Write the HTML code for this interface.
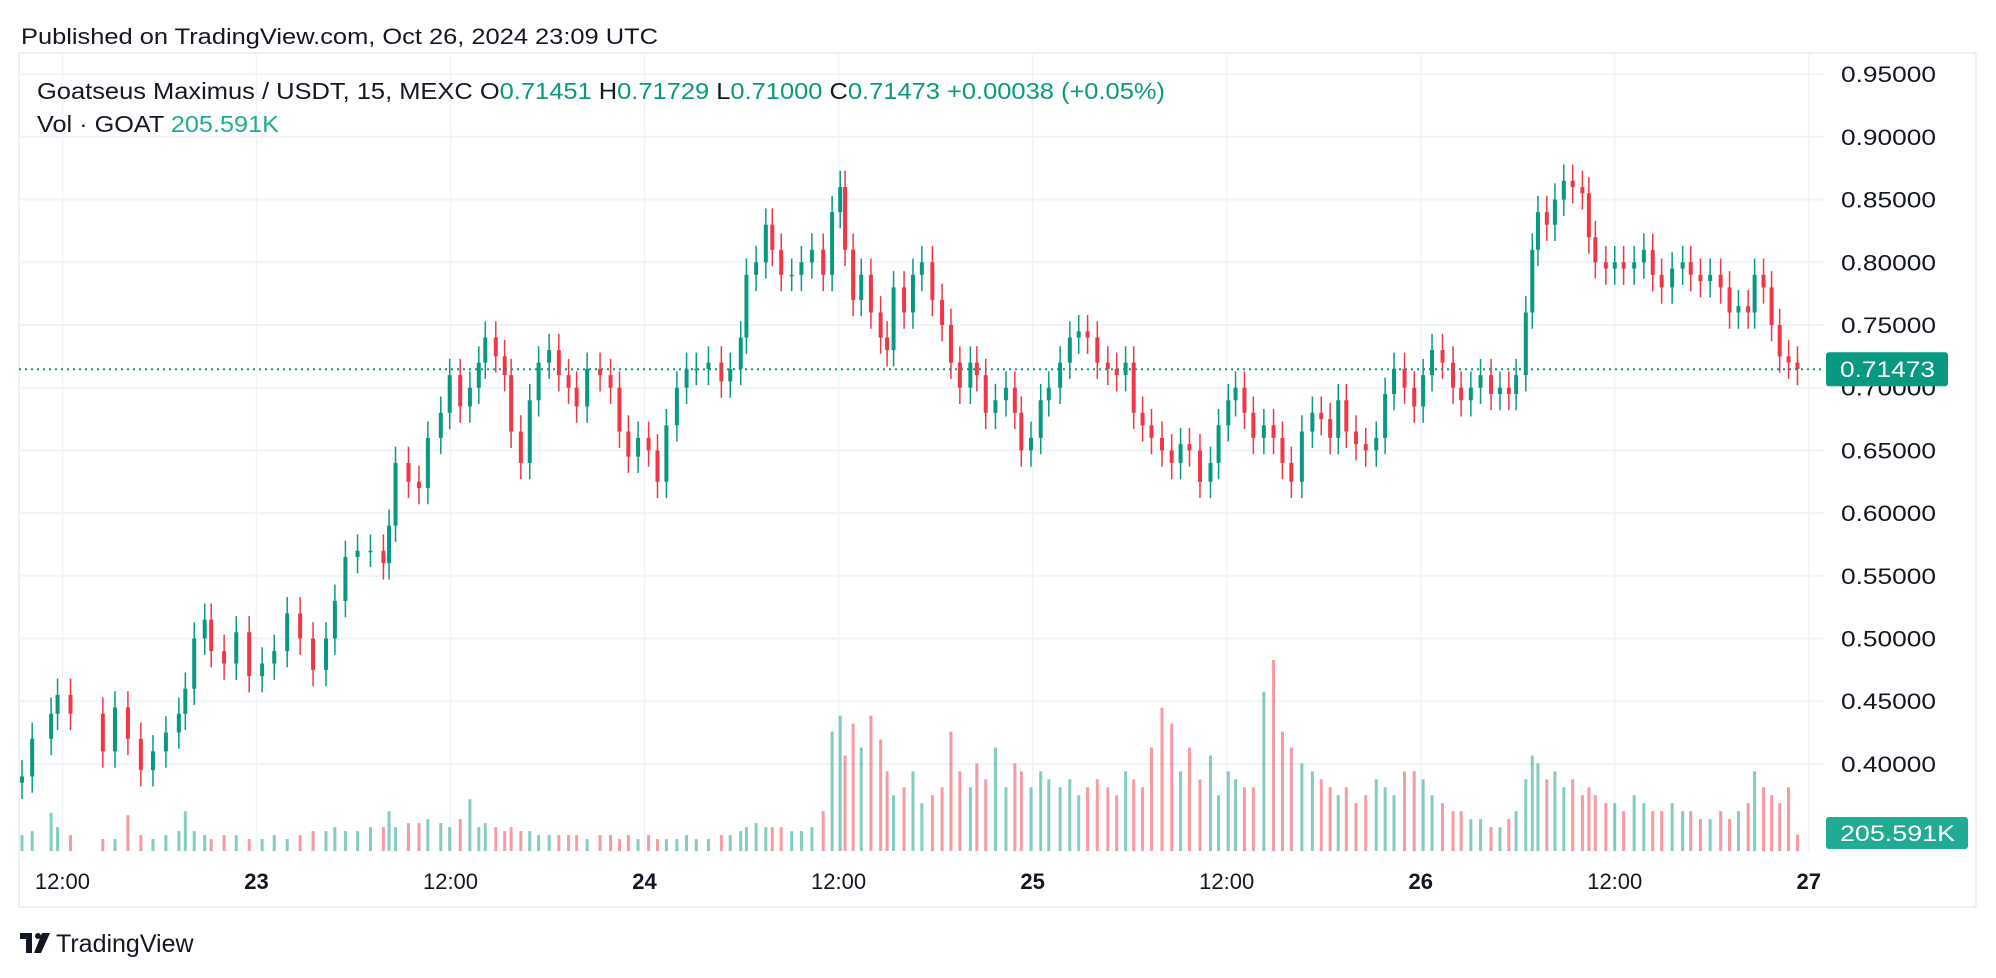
<!DOCTYPE html>
<html><head><meta charset="utf-8"><style>
html,body{margin:0;padding:0;background:#fff;width:1996px;height:978px;overflow:hidden;font-family:"Liberation Sans",sans-serif;color:#131722}
</style></head><body>
<svg id="c" width="1996" height="978" xmlns="http://www.w3.org/2000/svg">
<text x="21" y="44" font-size="22" fill="#131722" textLength="637" lengthAdjust="spacingAndGlyphs">Published on TradingView.com, Oct 26, 2024 23:09 UTC</text>
<rect x="19" y="53" width="1957" height="854" fill="none" stroke="#e0e3eb" stroke-width="1"/>
<g id="grid"></g><g id="vol"></g><g id="candles"></g><g id="axes"></g>
<g font-size="23">
<text x="37" y="99" textLength="1128" lengthAdjust="spacingAndGlyphs"><tspan fill="#131722">Goatseus Maximus / USDT, 15, MEXC  O</tspan><tspan fill="#089981">0.71451</tspan><tspan fill="#131722">  H</tspan><tspan fill="#089981">0.71729</tspan><tspan fill="#131722">  L</tspan><tspan fill="#089981">0.71000</tspan><tspan fill="#131722">  C</tspan><tspan fill="#089981">0.71473  +0.00038 (+0.05%)</tspan></text>
<text x="37" y="132" textLength="242" lengthAdjust="spacingAndGlyphs"><tspan fill="#131722">Vol · GOAT  </tspan><tspan fill="#22ab94">205.591K</tspan></text>
</g>
<g>
<rect x="20" y="933" width="12" height="6" fill="#131722"/><rect x="26" y="933" width="6" height="20" fill="#131722"/>
<circle cx="38" cy="936" r="3" fill="#131722"/><polygon points="42,933 50,933 41,953 34,953" fill="#131722"/>
<text x="56" y="952" font-size="25" fill="#131722">TradingView</text>
</g>
</svg>
<script>
const hours=[0,0.63,1.8,2.2,3.0,5.0,5.75,6.55,7.35,8.1,8.9,9.7,10.1,10.65,11.3,11.7,12.5,13.25,14.05,14.85,15.6,16.4,17.2,18.0,18.8,19.35,20.0,20.75,21.55,22.35,22.7,23.1,23.9,24.55,25.1,25.9,26.45,27.1,27.7,28.25,28.65,29.3,29.85,30.25,30.85,31.4,31.95,32.6,33.2,33.8,34.3,34.95,35.75,36.4,36.95,37.5,38.1,38.75,39.3,39.85,40.5,41.1,41.7,42.45,43.25,43.8,44.45,44.8,45.4,46.0,46.4,46.95,47.6,48.2,48.85,49.55,50.1,50.6,50.9,51.4,51.9,52.5,53.1,53.5,53.9,54.55,55.1,55.65,56.3,56.9,57.45,58.0,58.65,59.05,59.6,60.2,60.85,61.4,61.8,62.4,63.0,63.5,64.2,64.8,65.35,65.9,66.5,67.15,67.7,68.25,68.75,69.3,69.85,70.5,71.1,71.65,72.2,72.85,73.5,74.0,74.6,75.05,75.6,76.15,76.8,77.4,77.95,78.5,79.15,79.8,80.35,80.9,81.4,81.9,82.5,83.1,83.75,84.3,84.85,85.5,86.1,86.65,87.2,87.85,88.5,89.0,89.6,90.2,90.85,91.4,91.95,92.4,93.0,93.4,93.75,94.3,94.8,95.35,95.9,96.5,96.9,97.3,97.95,98.5,99.05,99.7,100.3,100.85,101.4,102.05,102.7,103.2,103.8,104.4,105.05,105.6,106.15,106.75,107.15,107.7,108.2,108.7,109.25,109.8];
const closes=[0.39,0.42,0.44,0.455,0.44,0.41,0.445,0.42,0.395,0.41,0.425,0.44,0.46,0.50,0.515,0.49,0.48,0.505,0.47,0.48,0.49,0.52,0.50,0.475,0.50,0.53,0.565,0.57,0.57,0.56,0.59,0.64,0.625,0.62,0.66,0.68,0.71,0.685,0.70,0.72,0.74,0.725,0.71,0.665,0.64,0.69,0.72,0.73,0.71,0.70,0.685,0.715,0.71,0.70,0.665,0.645,0.66,0.65,0.625,0.67,0.70,0.715,0.715,0.72,0.705,0.715,0.74,0.79,0.80,0.83,0.81,0.79,0.79,0.80,0.81,0.79,0.84,0.86,0.81,0.77,0.79,0.76,0.74,0.73,0.78,0.76,0.79,0.80,0.77,0.75,0.72,0.70,0.72,0.71,0.68,0.69,0.70,0.68,0.65,0.66,0.69,0.70,0.72,0.74,0.745,0.74,0.72,0.715,0.71,0.72,0.68,0.67,0.66,0.65,0.64,0.655,0.65,0.625,0.64,0.67,0.69,0.70,0.68,0.66,0.67,0.66,0.64,0.625,0.665,0.68,0.675,0.66,0.69,0.665,0.655,0.65,0.66,0.695,0.715,0.70,0.685,0.71,0.73,0.72,0.70,0.69,0.70,0.71,0.695,0.70,0.695,0.71,0.76,0.81,0.84,0.83,0.85,0.865,0.86,0.855,0.82,0.80,0.795,0.80,0.795,0.80,0.81,0.79,0.78,0.795,0.80,0.79,0.785,0.79,0.78,0.76,0.765,0.76,0.79,0.78,0.75,0.725,0.72,0.715];
const volumes=[200,250,480,300,200,150,150,450,200,150,200,250,500,250,200,150,200,200,150,150,200,150,200,250,250,300,250,250,300,300,500,300,350,350,400,350,300,400,650,300,350,300,250,300,250,250,200,200,200,200,200,150,200,200,150,200,150,200,150,150,150,200,150,150,200,200,250,300,350,300,300,300,250,250,300,500,1500,1700,1200,1600,1300,1700,1400,1000,700,800,1000,600,700,800,1500,1000,800,1100,900,1300,800,1100,1000,800,1000,900,800,900,700,800,900,800,700,1000,900,800,1300,1800,1600,1000,1300,900,1200,700,1000,900,800,800,2000,2400,1500,1300,1100,1000,900,800,700,800,600,700,900,800,700,1000,1000,900,700,600,500,500,400,400,300,300,400,500,900,1200,1100,900,1000,800,900,700,800,700,600,600,500,700,600,500,500,600,500,500,400,400,500,400,500,600,1000,800,700,600,800,205];
const priceTicks=[0.95,0.90,0.85,0.80,0.75,0.70,0.65,0.60,0.55,0.50,0.45,0.40];
const timeLabels=["12:00","23","12:00","24","12:00","25","12:00","26","12:00","27"];
const timeLabelHours=[2.5,14.5,26.5,38.5,50.5,62.5,74.5,86.5,98.5,110.5];
const lastPrice=0.71473;

const NS="http://www.w3.org/2000/svg";
const X=h=>22+h*16.17;
const Y=p=>387.7-(p-0.70)*1254;
const VY=v=>851-v*0.0796;
function mk(tag,attrs,parent){const e=document.createElementNS(NS,tag);for(const k in attrs)e.setAttribute(k,attrs[k]);parent.appendChild(e);return e;}
const grid=document.getElementById('grid'),vol=document.getElementById('vol'),cg=document.getElementById('candles'),ax=document.getElementById('axes');
priceTicks.forEach(p=>{
  const l=mk('line',{x1:19,x2:1824,y1:Y(p),y2:Y(p),stroke:'#f0f3fa','stroke-width':2},grid);
  
  
  const t=mk('text',{x:1841,y:Y(p)+8,'font-size':22,fill:'#131722',textLength:95,lengthAdjust:'spacingAndGlyphs'},ax);
  t.textContent=p.toFixed(5);
  
  
});
timeLabels.forEach((s,i)=>{
  const x=X(timeLabelHours[i]);
  const l=mk('line',{x1:x,x2:x,y1:53,y2:851,stroke:'#f0f3fa','stroke-width':1.5},grid);
  
  
  const t=mk('text',{x:x,y:889,'font-size':22,fill:'#131722','text-anchor':'middle','font-weight':s.includes(':')?'normal':'bold'},ax);
  t.textContent=s;
  
  
});
const n=Math.min(hours.length,closes.length,volumes.length);
for(let i=0;i<n;i++){
  const x=X(hours[i]);const c=closes[i];const o=i?closes[i-1]:c-0.005;
  const up=c>=o;const col=up?'#089981':'#F23645';
  const vb=mk('rect',{x:x-1.5,y:VY(volumes[i]),width:3,height:851-VY(volumes[i]),fill:up?'rgba(8,153,129,0.5)':'rgba(242,54,69,0.5)'},vol);
  
  
  const hi=Math.max(o,c)+0.013,lo=Math.min(o,c)-0.013;
  const w=mk('line',{x1:x,x2:x,y1:Y(hi),y2:Y(lo),stroke:col,'stroke-width':1.5},cg);
  
  
  const top=Y(Math.max(o,c)),bot=Y(Math.min(o,c));
  const b=mk('rect',{x:x-2,y:top,width:4,height:Math.max(1.5,bot-top),fill:col},cg);
  
  
}
const dl=mk('line',{x1:19,x2:1824,y1:Y(lastPrice),y2:Y(lastPrice),stroke:'#089981','stroke-width':2,'stroke-dasharray':'2 4'},ax);


const pb=mk('rect',{x:1826,y:Y(lastPrice)-17,width:122,height:34,rx:3,fill:'#089981'},ax);


const pt=mk('text',{x:1840,y:Y(lastPrice)+8,'font-size':22,fill:'#fff',textLength:95,lengthAdjust:'spacingAndGlyphs'},ax);
pt.textContent=lastPrice.toFixed(5);


const vbdg=mk('rect',{x:1826,y:817,width:142,height:32,rx:3,fill:'#22ab94'},ax);


const vt=mk('text',{x:1840,y:841,'font-size':22,fill:'#fff',textLength:115,lengthAdjust:'spacingAndGlyphs'},ax);
vt.textContent='205.591K';


</script>
</body></html>
